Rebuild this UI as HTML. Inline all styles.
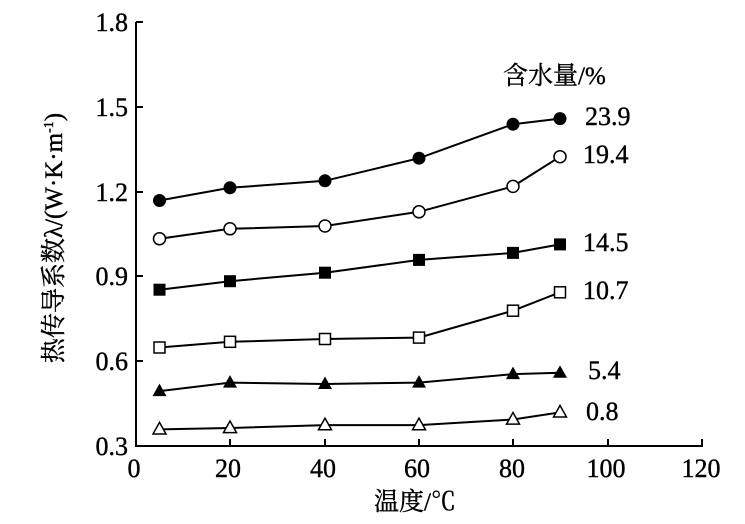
<!DOCTYPE html>
<html><head><meta charset="utf-8"><style>
html,body{margin:0;padding:0;background:#fff;}
svg text{font-family:"Liberation Serif","Noto Serif CJK SC",serif;fill:#000;}
</style></head><body>
<svg width="745" height="519" viewBox="0 0 745 519" xmlns="http://www.w3.org/2000/svg">
<g stroke="#000" stroke-width="2" fill="none">
<line x1="136" y1="22" x2="136" y2="446"/>
<line x1="135" y1="446" x2="703" y2="446"/>
<line x1="136" y1="22" x2="143" y2="22"/>
<line x1="136" y1="107" x2="143" y2="107"/>
<line x1="136" y1="192" x2="143" y2="192"/>
<line x1="136" y1="276" x2="143" y2="276"/>
<line x1="136" y1="361" x2="143" y2="361"/>
<line x1="230" y1="446" x2="230" y2="439"/>
<line x1="325" y1="446" x2="325" y2="439"/>
<line x1="419" y1="446" x2="419" y2="439"/>
<line x1="513" y1="446" x2="513" y2="439"/>
<line x1="608" y1="446" x2="608" y2="439"/>
<line x1="702" y1="446" x2="702" y2="439"/>
</g>
<g font-size="26" text-anchor="end" stroke="#000" stroke-width="0.4">
<text x="128" y="31">1.8</text><text x="128" y="116">1.5</text><text x="128" y="201">1.2</text>
<text x="128" y="285">0.9</text><text x="128" y="370">0.6</text><text x="128" y="455">0.3</text>
</g>
<g font-size="26" text-anchor="middle" stroke="#000" stroke-width="0.4">
<text x="134" y="477">0</text><text x="228" y="477">20</text><text x="323" y="477">40</text>
<text x="417" y="477">60</text><text x="512" y="477">80</text><text x="606" y="477">100</text><text x="701" y="477">120</text>
</g>
<text x="415" y="510" font-size="25" text-anchor="middle" stroke="#000" stroke-width="0.4">温度/℃</text>
<text transform="translate(62,238) rotate(-90)" font-size="25" text-anchor="middle" stroke="#000" stroke-width="0.4">热传导系数λ/(W·K·m<tspan font-size="14" dy="-9">-1</tspan><tspan dy="9">)</tspan></text>
<text x="503" y="84" font-size="25" stroke="#000" stroke-width="0.4">含水量/%</text>
<g font-size="26" stroke="#000" stroke-width="0.4">
<text x="585" y="125">23.9</text><text x="583" y="163">19.4</text><text x="583" y="251">14.5</text>
<text x="583" y="299">10.7</text><text x="588" y="379">5.4</text><text x="586" y="420">0.8</text>
</g>
<g stroke="#000" stroke-width="2" fill="none">
<polyline points="159.5,200.5 230,187.8 325,180.8 419,158.2 513,124.2 560,118.6"/>
<polyline points="159.5,238.7 230,228.8 325,226 419,211.8 513,186.4 560,156.7"/>
<polyline points="159.5,289.7 230,281.2 325,272.7 419,259.9 513,252.9 560,244.4"/>
<polyline points="159.5,347.5 230,341.8 325,339 419,337.6 513,310.7 560,292.3"/>
<polyline points="159.5,391.1 230,382.6 325,384 419,382.6 513,374.1 560,372.7"/>
<polyline points="159.5,429.4 230,428 325,425.1 419,425.1 513,419.5 560,412.4"/>
</g>
<g fill="#000">
<circle cx="159.5" cy="200.5" r="6.5"/><circle cx="230" cy="187.8" r="6.5"/><circle cx="325" cy="180.8" r="6.5"/>
<circle cx="419" cy="158.2" r="6.5"/><circle cx="513" cy="124.2" r="6.5"/><circle cx="560" cy="118.6" r="6.5"/>
</g>
<g fill="#fff" stroke="#000" stroke-width="1.5">
<circle cx="159.5" cy="238.7" r="6"/><circle cx="230" cy="228.8" r="6"/><circle cx="325" cy="226" r="6"/>
<circle cx="419" cy="211.8" r="6"/><circle cx="513" cy="186.4" r="6"/><circle cx="560" cy="156.7" r="6"/>
</g>
<g fill="#000">
<rect x="153.5" y="283.7" width="12" height="12"/><rect x="224" y="275.2" width="12" height="12"/><rect x="319" y="266.7" width="12" height="12"/>
<rect x="413" y="253.9" width="12" height="12"/><rect x="507" y="246.9" width="12" height="12"/><rect x="554" y="238.4" width="12" height="12"/>
</g>
<g fill="#fff" stroke="#000" stroke-width="1.5">
<rect x="154" y="342" width="11" height="11"/><rect x="224.5" y="336.3" width="11" height="11"/><rect x="319.5" y="333.5" width="11" height="11"/>
<rect x="413.5" y="332.1" width="11" height="11"/><rect x="507.5" y="305.2" width="11" height="11"/><rect x="554.5" y="286.8" width="11" height="11"/>
</g>
<g fill="#000">
<polygon points="159.5,383.6 166.5,396.1 152.5,396.1"/><polygon points="230,375.1 237,387.6 223,387.6"/><polygon points="325,376.5 332,389 318,389"/>
<polygon points="419,375.1 426,387.6 412,387.6"/><polygon points="513,366.6 520,379.1 506,379.1"/><polygon points="560,365.2 567,377.7 553,377.7"/>
</g>
<g fill="#fff" stroke="#000" stroke-width="1.5">
<polygon points="159.5,422.4 166,434 153,434"/><polygon points="230,421 236.5,432.6 223.5,432.6"/><polygon points="325,418.1 331.5,429.7 318.5,429.7"/>
<polygon points="419,418.1 425.5,429.7 412.5,429.7"/><polygon points="513,412.5 519.5,424.1 506.5,424.1"/><polygon points="560,405.4 566.5,417 553.5,417"/>
</g>
</svg>
</body></html>
